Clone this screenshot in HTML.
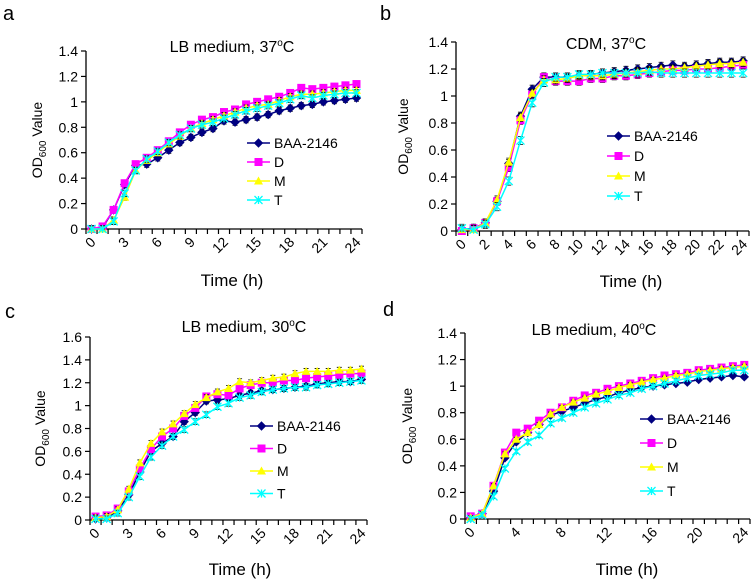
<!DOCTYPE html>
<html><head><meta charset="utf-8"><style>
html,body{margin:0;padding:0;background:#fff;}
svg{display:block;font-family:"Liberation Sans",Arial,sans-serif;}
</style></head><body>
<svg id="fig" width="754" height="583" viewBox="0 0 754 583" xmlns="http://www.w3.org/2000/svg"></svg>
<script>
const hours = [0,1,2,3,4,5,6,7,8,9,10,11,12,13,14,15,16,17,18,19,20,21,22,23,24];
const seriesNames = ["BAA-2146","D","M","T"];
const aBAA=[0,0.01,0.15,0.35,0.5,0.51,0.56,0.62,0.68,0.72,0.76,0.79,0.85,0.84,0.86,0.88,0.9,0.93,0.95,0.97,0.98,1.0,1.01,1.02,1.03];
const aD=[0,0.02,0.15,0.36,0.51,0.56,0.62,0.69,0.76,0.82,0.86,0.88,0.92,0.94,0.98,1.0,1.02,1.04,1.07,1.11,1.10,1.11,1.12,1.13,1.14];
const aM=[0,0,0.07,0.25,0.46,0.54,0.6,0.67,0.73,0.79,0.83,0.86,0.89,0.92,0.95,0.97,0.98,1.01,1.04,1.06,1.06,1.07,1.08,1.09,1.09];
const aT=[0,0,0.06,0.28,0.46,0.55,0.61,0.68,0.74,0.79,0.82,0.84,0.87,0.9,0.93,0.95,0.97,0.99,1.02,1.05,1.03,1.05,1.06,1.07,1.07];
const bBAA=[0.01,0.02,0.06,0.22,0.5,0.85,1.05,1.14,1.14,1.14,1.15,1.16,1.17,1.18,1.19,1.2,1.21,1.22,1.23,1.22,1.23,1.24,1.25,1.25,1.26];
const bD=[0,0.02,0.06,0.22,0.47,0.82,1.01,1.14,1.11,1.11,1.11,1.13,1.13,1.15,1.15,1.16,1.17,1.18,1.19,1.19,1.2,1.2,1.21,1.22,1.23];
const bM=[0.01,0.01,0.06,0.23,0.51,0.84,1.02,1.12,1.12,1.13,1.15,1.15,1.15,1.16,1.17,1.18,1.19,1.2,1.2,1.21,1.22,1.23,1.24,1.24,1.25];
const bT=[0.02,0.01,0.05,0.18,0.37,0.67,0.95,1.1,1.14,1.14,1.16,1.16,1.17,1.17,1.17,1.17,1.18,1.17,1.17,1.17,1.17,1.17,1.17,1.17,1.17];
const cBAA=[0.01,0.02,0.08,0.22,0.42,0.6,0.67,0.73,0.86,0.94,1.04,1.05,1.06,1.09,1.11,1.13,1.14,1.15,1.16,1.17,1.19,1.2,1.21,1.21,1.23];
const cD=[0.03,0.04,0.1,0.25,0.45,0.62,0.73,0.8,0.91,0.98,1.08,1.1,1.09,1.15,1.18,1.2,1.2,1.22,1.22,1.24,1.25,1.26,1.27,1.28,1.28];
const cM=[0.02,0.03,0.09,0.27,0.5,0.67,0.77,0.84,0.93,1.01,1.07,1.12,1.15,1.21,1.2,1.22,1.24,1.25,1.28,1.3,1.3,1.3,1.31,1.31,1.32];
const cT=[0.01,0.01,0.06,0.2,0.38,0.55,0.65,0.73,0.79,0.86,0.92,0.99,1.02,1.07,1.09,1.12,1.14,1.15,1.16,1.16,1.18,1.19,1.2,1.21,1.22];
const dBAA=[0.01,0.04,0.21,0.46,0.58,0.65,0.71,0.78,0.81,0.84,0.87,0.9,0.92,0.95,0.97,0.99,1.0,1.01,1.02,1.03,1.05,1.06,1.07,1.08,1.07];
const dD=[0.02,0.04,0.25,0.5,0.65,0.68,0.74,0.8,0.84,0.89,0.93,0.95,0.98,1.0,1.02,1.04,1.06,1.08,1.09,1.1,1.12,1.13,1.14,1.15,1.16];
const dM=[0.01,0.04,0.25,0.49,0.6,0.65,0.71,0.79,0.84,0.88,0.91,0.94,0.96,0.99,1.01,1.03,1.05,1.06,1.08,1.09,1.11,1.12,1.13,1.14,1.15];
const dT=[0.0,0.03,0.17,0.38,0.51,0.58,0.63,0.72,0.76,0.8,0.84,0.87,0.9,0.93,0.95,0.98,1.0,1.02,1.04,1.06,1.08,1.09,1.1,1.12,1.12];
const errA=0.025, errB=0.03, errC=0.025, errD=0.015;
const yTicksA=["0","0.2","0.4","0.6","0.8","1","1.2","1.4"];
const yTicksC=["0","0.2","0.4","0.6","0.8","1","1.2","1.4","1.6"];
const xLabStep={a:3,b:2,c:3,d:4};

const NS="http://www.w3.org/2000/svg";
const svg=document.getElementById('fig');
const colors=["#000080","#FF00FF","#FFFF00","#00FFFF"];
function mk(tag,attrs,parent){const e=document.createElementNS(NS,tag);for(const k in attrs)e.setAttribute(k,attrs[k]);(parent||svg).appendChild(e);return e;}

function marker(g,i,x,y){
  let m;
  if(i===0){m=mk('polygon',{points:`${x},${y-4} ${x+4},${y} ${x},${y+4} ${x-4},${y}`,fill:colors[0],stroke:colors[0]},g);}
  else if(i===1){m=mk('rect',{x:x-4,y:y-4,width:8,height:8,fill:colors[1]},g);}
  else if(i===2){m=mk('polygon',{points:`${x},${y-4.5} ${x+4.5},${y+3.5} ${x-4.5},${y+3.5}`,fill:colors[2]},g);}
  else {m=mk('path',{d:`M${x-4},${y-4}L${x+4},${y+4}M${x-4},${y+4}L${x+4},${y-4}M${x},${y-4}L${x},${y+4}`,stroke:colors[3],'stroke-width':1.3,fill:'none'},g);}
  
  
}

function panel(p){
  const g=mk('g',{});
  
  
  const lab=mk('text',{x:p.labX,y:p.labY,'font-size':20},g);lab.textContent=p.id;
  
  const t=mk('text',{x:p.titleX,y:p.titleY,'font-size':16,'text-anchor':'middle'},g);
  t.innerHTML=p.title+'<tspan font-size="10" dy="-6">o</tspan><tspan dy="6">C</tspan>';
  
  const n=hours.length, cw=(p.x1-p.x0)/n;
  const X=i=>p.x0+(i+0.5)*cw;
  const Y=v=>p.y0-(v/p.ymax)*(p.y0-p.yTop);
  const ax=mk('path',{d:`M${p.x0},${p.yTop}L${p.x0},${p.y0}L${p.x1},${p.y0}`,stroke:'#000','stroke-width':1.3,fill:'none'},g);
  
  p.yTicks.forEach((lb,k)=>{
    const v=k*0.2, y=Y(v);
    mk('line',{x1:p.x0-5,x2:p.x0,y1:y,y2:y,stroke:'#000','stroke-width':1.2},g);
    const tx=mk('text',{x:p.x0-8,y:y+5,'font-size':14,'text-anchor':'end'},g);tx.textContent=lb;
    
  });
  for(let i=0;i<=n;i++){const x=p.x0+i*cw;mk('line',{x1:x,x2:x,y1:p.y0,y2:p.y0+5,stroke:'#000','stroke-width':1.2},g);}
  hours.forEach((h,i)=>{
    if(h%p.step!==0)return;
    const x=X(i);
    const tx=mk('text',{x:x+5,y:p.y0+14,'font-size':14,'text-anchor':'end',transform:`rotate(-45 ${x+5} ${p.y0+14})`},g);
    tx.textContent=h;
    
  });
  const xt=mk('text',{x:p.xtX,y:p.xtY,'font-size':17,'text-anchor':'middle'},g);xt.textContent='Time (h)';
  
  const cy=(p.y0+p.yTop)/2;
  const yt=mk('text',{x:p.ylX,y:cy,'font-size':14,'text-anchor':'middle',transform:`rotate(-90 ${p.ylX} ${cy})`},g);
  yt.innerHTML='OD<tspan font-size="10" dy="4">600</tspan><tspan dy="-4"> Value</tspan>';
  
  p.series.forEach((vals,si)=>{
    const sg=mk('g',{},g);
    
    
    vals.forEach((v,i)=>{
      const x=X(i),ya=Y(v+p.err),yb=Y(Math.max(0,v-p.err));
      const e=mk('path',{d:`M${x},${ya}L${x},${yb}M${x-2.5},${ya}L${x+2.5},${ya}M${x-2.5},${yb}L${x+2.5},${yb}`,stroke:'#000','stroke-width':0.8},sg);
      
    });
    const pl=mk('polyline',{points:vals.map((v,i)=>X(i)+','+Y(v)).join(' '),fill:'none',stroke:colors[si],'stroke-width':1.5},sg);
    
    vals.forEach((v,i)=>marker(sg,si,X(i),Y(v)));
  });
  const lg=mk('g',{},g);
  
  seriesNames.forEach((nm,si)=>{
    const y=p.legY+si*p.legDy;
    const eg=mk('g',{},lg);
    
    mk('line',{x1:p.legX,x2:p.legX+23,y1:y,y2:y,stroke:colors[si],'stroke-width':1.5},eg);
    marker(eg,si,p.legX+11.5,y);
    const tx=mk('text',{x:p.legX+27,y:y+5,'font-size':14},eg);tx.textContent=nm;
  });
}

panel({id:'a',labX:3,labY:20,title:'LB medium, 37',titleX:232,titleY:52,x0:86,x1:362,y0:229,yTop:51,ymax:1.4,yTicks:yTicksA,step:xLabStep.a,err:errA,xtX:232,xtY:286,ylX:42,series:[aBAA,aD,aM,aT],legX:247,legY:143,legDy:19});
panel({id:'b',labX:380,labY:20,title:'CDM, 37',titleX:606,titleY:49,x0:456,x1:749,y0:231,yTop:42,ymax:1.4,yTicks:yTicksA,step:xLabStep.b,err:errB,xtX:631,xtY:287,ylX:408,series:[bBAA,bD,bM,bT],legX:607,legY:136,legDy:20});
panel({id:'c',labX:5,labY:318,title:'LB medium, 30',titleX:244,titleY:332,x0:90,x1:367,y0:520,yTop:337,ymax:1.6,yTicks:yTicksC,step:xLabStep.c,err:errC,xtX:240,xtY:575,ylX:45,series:[cBAA,cD,cM,cT],legX:250,legY:426,legDy:22.5});
panel({id:'d',labX:383,labY:316,title:'LB medium, 40',titleX:594,titleY:335,x0:465,x1:750,y0:519,yTop:333,ymax:1.4,yTicks:yTicksA,step:xLabStep.d,err:errD,xtX:627,xtY:575,ylX:412,series:[dBAA,dD,dM,dT],legX:640,legY:419,legDy:24});
</script>
</body></html>
